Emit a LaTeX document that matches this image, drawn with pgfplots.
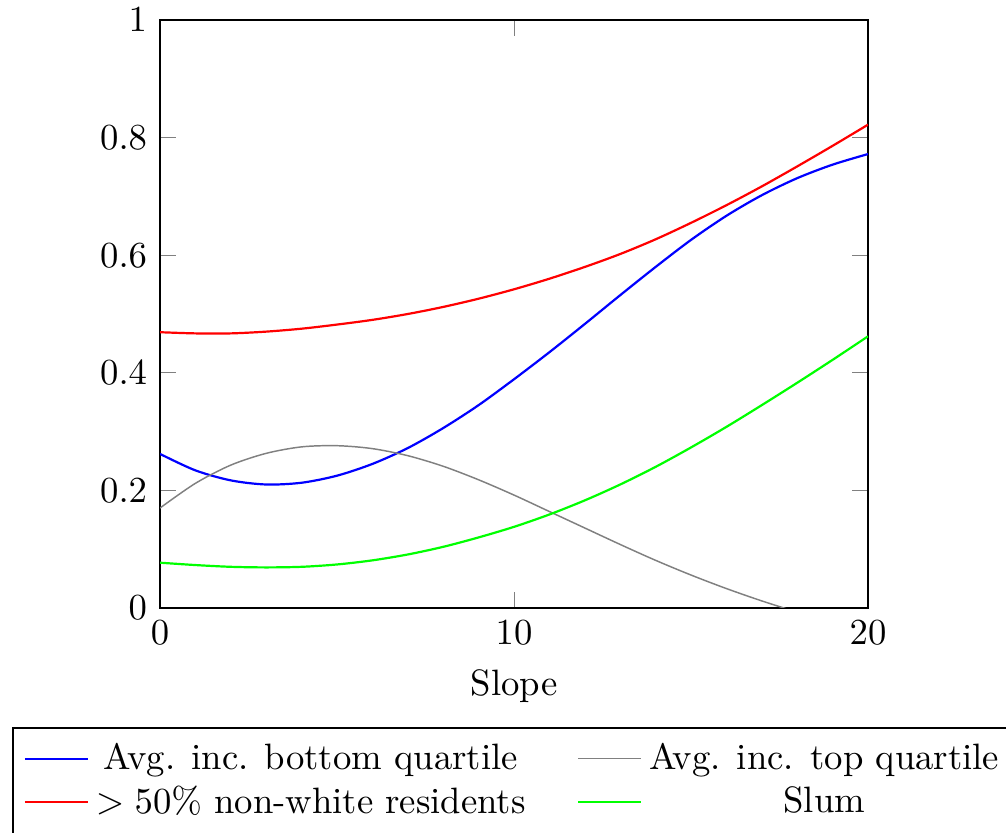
\documentclass[border=0pt]{standalone}
\usepackage{pgfplots}
\pgfplotsset{compat=1.18}
\begin{document}
\begin{tikzpicture}
\begin{axis}[
  scale only axis,
  width=192.9pt, height=160.2pt,
  xmin=0, xmax=20, ymin=0, ymax=1,
  xtick={0,10,20},
  ytick={0,0.2,0.4,0.6,0.8,1},
  xlabel={Slope},
  legend columns=2,
  legend cell align=center,
  legend style={at={(-0.209,-0.203)}, anchor=north west, draw=black,
    /tikz/every even column/.append style={column sep=12pt},
    row sep=-1pt},
]
\addplot[blue, semithick, smooth] coordinates {
(0,0.262) (1,0.234) (2,0.217) (3,0.210) (4,0.213) (5,0.225) (6,0.245) (7,0.272)
(8,0.306) (9,0.345) (10,0.389) (11,0.435) (12,0.483) (13,0.532) (14,0.580)
(15,0.626) (16,0.667) (17,0.702) (18,0.731) (19,0.754) (20,0.772)};
\addlegendentry{Avg. inc. bottom quartile}
\addplot[gray, smooth] coordinates {
(0,0.170) (1,0.212) (2,0.243) (3,0.263) (4,0.274) (5,0.276) (6,0.271) (7,0.259)
(8,0.241) (9,0.218) (10,0.192) (11,0.164) (12,0.136) (13,0.108) (14,0.081)
(15,0.056) (16,0.033) (17,0.012) (18,-0.007) (19,-0.024) (20,-0.039)};
\addlegendentry{Avg. inc. top quartile}
\addplot[red, semithick, smooth] coordinates {
(0,0.469) (1,0.467) (2,0.467) (3,0.470) (4,0.475) (5,0.482) (6,0.490) (7,0.500)
(8,0.512) (9,0.526) (10,0.542) (11,0.560) (12,0.580) (13,0.602) (14,0.627)
(15,0.655) (16,0.685) (17,0.717) (18,0.751) (19,0.786) (20,0.822)};
\addlegendentry{$>50\%$ non-white residents}
\addplot[green, semithick, smooth] coordinates {
(0,0.077) (1,0.073) (2,0.070) (3,0.069) (4,0.070) (5,0.074) (6,0.081) (7,0.091)
(8,0.104) (9,0.120) (10,0.138) (11,0.159) (12,0.183) (13,0.210) (14,0.240)
(15,0.273) (16,0.308) (17,0.345) (18,0.383) (19,0.422) (20,0.462)};
\addlegendentry{Slum}
\end{axis}
\pgfresetboundingbox
\path[use as bounding box] ([shift={(-43.6pt,-61.3pt)}]current axis.south west)
  rectangle ([shift={(37.6pt,5.45pt)}]current axis.north east);
\end{tikzpicture}
\end{document}
